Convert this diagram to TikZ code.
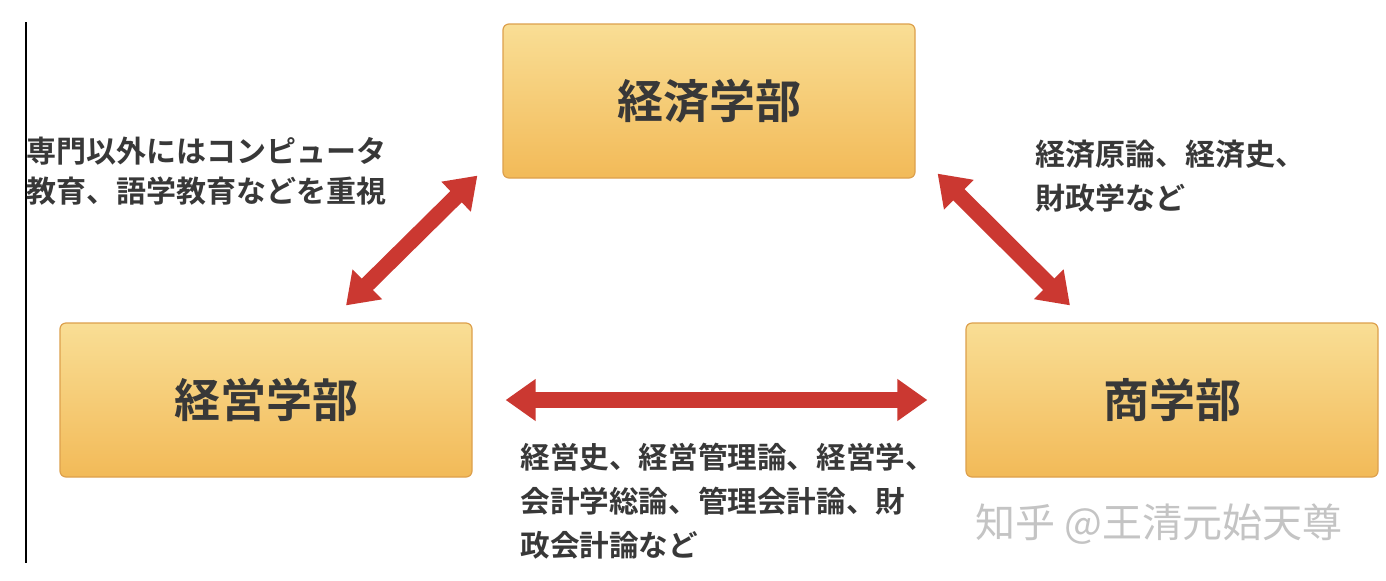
\documentclass[tikz,border=0pt]{standalone}
\usepackage{fontspec}
\setmainfont{Noto Sans CJK JP}[BoldFont={* Bold}]
\usetikzlibrary{arrows.meta,positioning}
\definecolor{boxtop}{HTML}{F9DE95}
\definecolor{boxbottom}{HTML}{F2BA58}
\definecolor{boxrule}{HTML}{DDA04C}
\definecolor{arrowred}{HTML}{CB3831}
\definecolor{inkgray}{HTML}{383838}
\definecolor{markgray}{HTML}{C4C4C4}

\begin{document}
\begin{tikzpicture}[x=0.5pt,y=-0.5pt,text=inkgray,
 box/.style={draw=boxrule,line width=0.6pt,top color=boxtop,bottom color=boxbottom,rounded corners=3pt,minimum width=206pt,minimum height=77pt,font=\fontsize{23}{27}\selectfont\bfseries},
 note/.style={align=left,anchor=north west,inner sep=0pt,font=\fontsize{15}{20}\selectfont\bfseries},
 biarrow/.style={arrowred,line width=8pt,{Triangle[length=15pt,width=20pt]}-{Triangle[length=15pt,width=20pt]}}]
\useasboundingbox[fill=white] (0,0) rectangle (1386,580);
\draw[line width=1pt,black] (26,22)--(26,563);
\node[box] (econ) at (709,101) {経済学部};
\node[box] (mgmt) at (266,400) {経営学部};
\node[box] (comm) at (1172,400) {商学部};
\node[note] (mgmtnote) at (26,137) {専門以外にはコンピュータ\\教育、語学教育などを重視};
\node[note,font=\fontsize{15}{22}\selectfont\bfseries] (econnote) at (1035,140) {経済原論、経済史、\\財政学など};
\node[note,font=\fontsize{14.8}{22}\selectfont\bfseries] (commnote) at (520,443) {経営史、経営管理論、経営学、\\会計学総論、管理会計論、財\\政会計論など};
\node[text=markgray,font=\fontsize{20}{22}\selectfont,anchor=west,inner sep=0pt] (mark) at (975,524) {知乎 @王清元始天尊};
\draw[biarrow] ([xshift=-12.5pt,yshift=1.5pt]econ.south west)--([xshift=40pt,yshift=8.5pt]mgmt.north);
\draw[biarrow] ([xshift=11pt,yshift=2.5pt]econ.south east)--([xshift=-51pt,yshift=8.5pt]comm.north);
\draw[biarrow,shorten <=16.5pt,shorten >=19pt] (mgmt.east)--(comm.west);
\end{tikzpicture}
\end{document}
